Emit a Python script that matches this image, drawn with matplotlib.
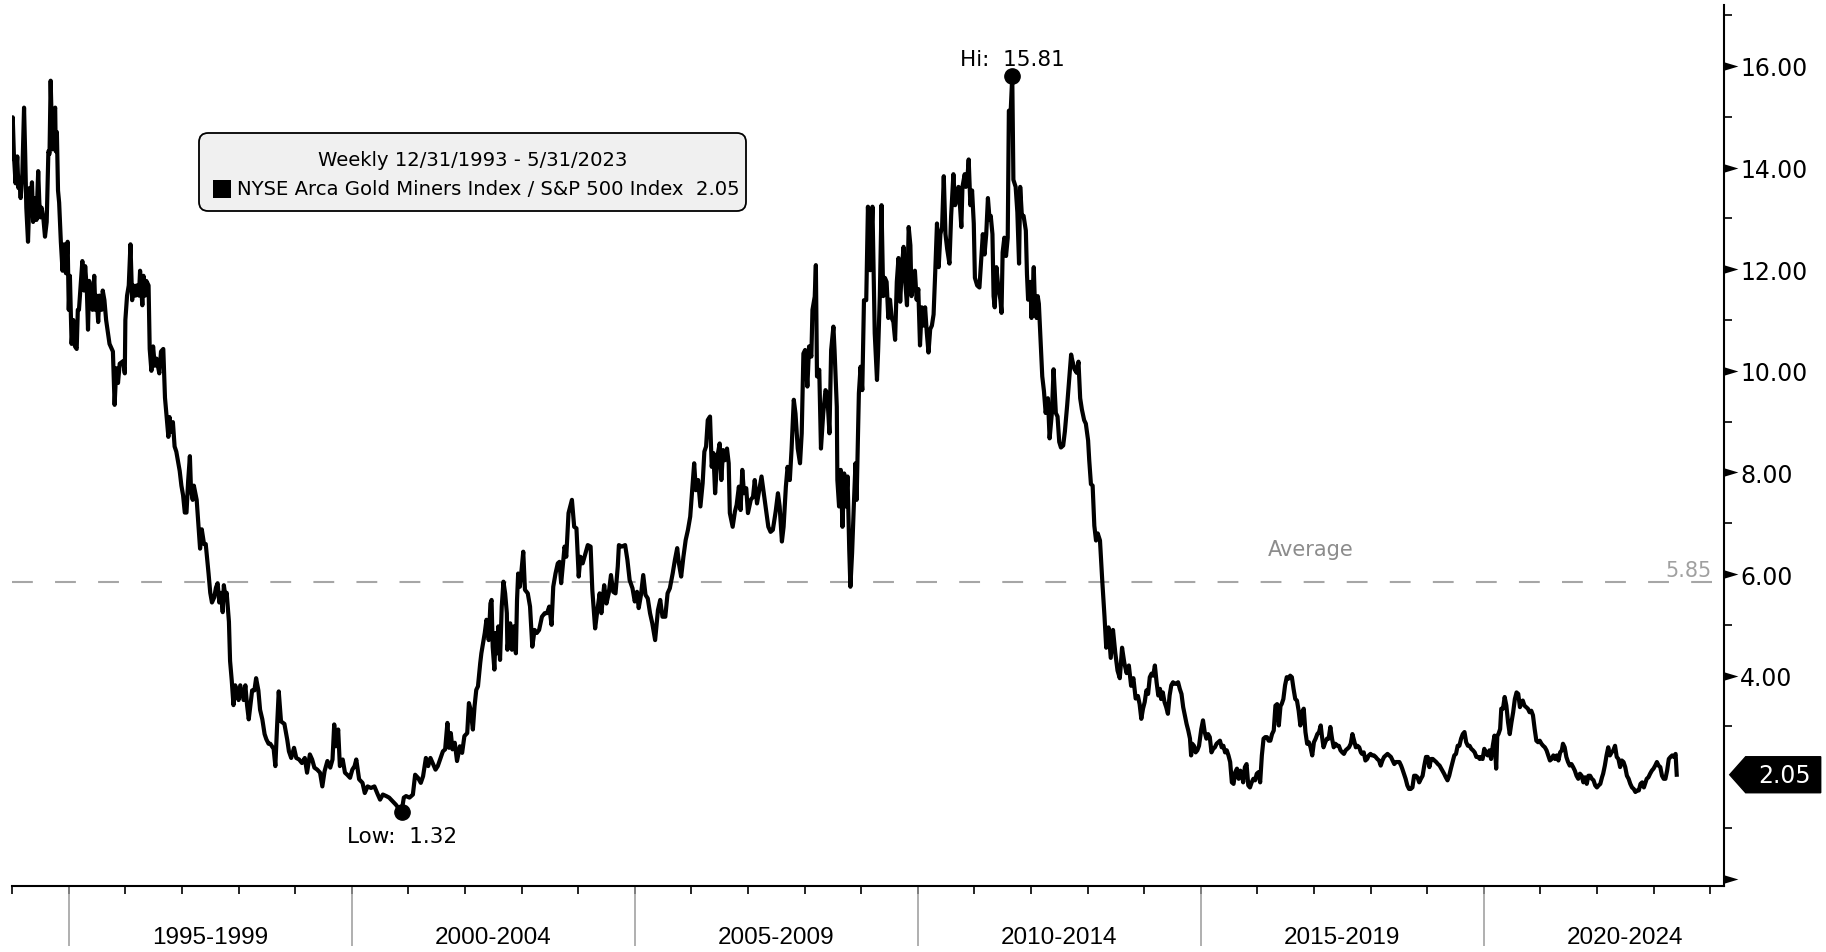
import numpy as np
import matplotlib
matplotlib.use("Agg")
import matplotlib.pyplot as plt
from matplotlib.path import Path
from matplotlib.patches import FancyBboxPatch, Rectangle, Polygon
import matplotlib.transforms as mtransforms

plt.rcParams['font.family'] = ['DejaVu Sans']
plt.rcParams['lines.scale_dashes'] = False

# weekly GDM / SPX ratio (decimal years)
yrs_94_98 = [1994.00, 1994.01, 1994.03, 1994.06, 1994.09, 1994.11, 1994.13, 1994.15, 1994.18, 1994.21,
             1994.23, 1994.25, 1994.28, 1994.31, 1994.33, 1994.35, 1994.37, 1994.40, 1994.43, 1994.46,
             1994.48, 1994.50, 1994.52, 1994.55, 1994.58, 1994.61, 1994.64, 1994.66, 1994.68, 1994.71,
             1994.73, 1994.76, 1994.77, 1994.79, 1994.81, 1994.83, 1994.86, 1994.89, 1994.92, 1994.95,
             1994.98, 1995.00, 1995.02, 1995.05, 1995.08, 1995.11, 1995.14, 1995.16, 1995.18, 1995.21,
             1995.24, 1995.27, 1995.29, 1995.32, 1995.34, 1995.36, 1995.39, 1995.42, 1995.45, 1995.47,
             1995.49, 1995.52, 1995.54, 1995.58, 1995.60, 1995.63, 1995.66, 1995.72, 1995.78, 1995.81,
             1995.84, 1995.87, 1995.90, 1995.96, 1995.99, 1996.00, 1996.03, 1996.06, 1996.09, 1996.12,
             1996.14, 1996.18, 1996.20, 1996.24, 1996.26, 1996.30, 1996.32, 1996.35, 1996.37, 1996.41,
             1996.43, 1996.46, 1996.49, 1996.52, 1996.55, 1996.60, 1996.63, 1996.67, 1996.70, 1996.73,
             1996.76, 1996.78, 1996.81, 1996.84, 1996.87, 1996.90, 1996.96, 1996.99, 1997.02, 1997.05,
             1997.08, 1997.11, 1997.14, 1997.16, 1997.19, 1997.21, 1997.26, 1997.29, 1997.32, 1997.35,
             1997.39, 1997.42, 1997.47, 1997.50, 1997.53, 1997.57, 1997.60, 1997.63, 1997.66, 1997.69,
             1997.72, 1997.74, 1997.77, 1997.79, 1997.83, 1997.85, 1997.88, 1997.91, 1997.94, 1997.97,
             1998.00, 1998.03, 1998.05, 1998.09, 1998.12, 1998.15, 1998.18, 1998.21, 1998.24, 1998.28,
             1998.31, 1998.35, 1998.38, 1998.42, 1998.46, 1998.49, 1998.53, 1998.56, 1998.62, 1998.65,
             1998.68]
val_94_98 = [14.17, 14.99, 14.27, 13.69, 14.22, 13.60, 13.69, 13.40, 13.89, 15.18,
             14.27, 13.21, 12.54, 13.60, 13.31, 13.71, 12.93, 13.40, 12.97, 13.93,
             13.31, 13.02, 13.21, 13.02, 12.64, 12.93, 14.32, 14.27, 15.71, 14.36,
             15.04, 15.18, 14.32, 14.70, 13.55, 13.31, 12.54, 11.97, 12.49, 11.92,
             12.54, 11.20, 11.87, 10.53, 11.00, 10.48, 10.43, 11.20, 11.20, 11.68,
             12.16, 11.58, 12.06, 11.58, 10.81, 11.77, 11.58, 11.20, 11.87, 11.20,
             11.48, 10.96, 11.48, 11.20, 11.58, 11.39, 11.00, 10.53, 10.38, 9.33,
             10.05, 9.76, 10.14, 10.19, 9.95, 11.00, 11.48, 11.68, 12.49, 11.39,
             11.68, 11.48, 11.68, 11.48, 11.97, 11.29, 11.87, 11.48, 11.77, 11.68,
             10.43, 10.00, 10.48, 10.10, 10.24, 9.95, 10.38, 10.43, 9.47, 9.09,
             8.70, 9.09, 8.80, 8.99, 8.51, 8.41, 8.03, 7.74, 7.55, 7.21,
             7.21, 7.84, 8.32, 7.65, 7.46, 7.74, 7.46, 6.98, 6.50, 6.88,
             6.59, 6.59, 6.01, 5.63, 5.44, 5.54, 5.73, 5.82, 5.44, 5.63,
             5.25, 5.78, 5.54, 5.63, 5.06, 4.29, 3.90, 3.42, 3.81, 3.71,
             3.52, 3.81, 3.71, 3.52, 3.81, 3.42, 3.14, 3.42, 3.71, 3.71,
             3.95, 3.71, 3.33, 3.14, 2.85, 2.75, 2.66, 2.66, 2.56, 2.22,
             2.99]

yrs_98_03 = [1998.71, 1998.75, 1998.81, 1998.86, 1998.89, 1998.93, 1998.98, 1999.02, 1999.07, 1999.12,
             1999.17, 1999.21, 1999.26, 1999.30, 1999.34, 1999.39, 1999.44, 1999.48, 1999.52, 1999.57,
             1999.62, 1999.66, 1999.69, 1999.72, 1999.76, 1999.79, 1999.84, 1999.88, 1999.92, 1999.97,
             2000.01, 2000.05, 2000.08, 2000.13, 2000.19, 2000.23, 2000.28, 2000.34, 2000.40, 2000.46,
             2000.50, 2000.55, 2000.61, 2000.66, 2000.72, 2000.78, 2000.84, 2000.88, 2000.92, 2000.96,
             2001.02, 2001.08, 2001.12, 2001.17, 2001.22, 2001.26, 2001.31, 2001.35, 2001.39, 2001.43,
             2001.48, 2001.52, 2001.57, 2001.61, 2001.65, 2001.69, 2001.72, 2001.75, 2001.78, 2001.82,
             2001.86, 2001.91, 2001.95, 2001.99, 2002.04, 2002.07, 2002.10, 2002.14, 2002.17, 2002.20,
             2002.23, 2002.27, 2002.29, 2002.32, 2002.35, 2002.38, 2002.40, 2002.42, 2002.45, 2002.47,
             2002.49, 2002.52, 2002.54, 2002.57, 2002.59, 2002.62, 2002.65, 2002.68, 2002.71, 2002.74,
             2002.75, 2002.80, 2002.83, 2002.86, 2002.90, 2002.92, 2002.94, 2002.97, 2003.00, 2003.03,
             2003.06, 2003.11, 2003.15, 2003.19, 2003.23, 2003.27, 2003.31, 2003.36, 2003.41, 2003.45,
             2003.49, 2003.53, 2003.56, 2003.60, 2003.64]
val_98_03 = [3.69, 3.10, 3.05, 2.74, 2.51, 2.38, 2.58, 2.38, 2.35, 2.28,
             2.38, 2.09, 2.45, 2.35, 2.19, 2.15, 2.09, 1.82, 2.12, 2.32,
             2.19, 2.35, 3.04, 2.61, 2.94, 2.22, 2.35, 2.09, 2.05, 1.99,
             2.15, 2.22, 2.35, 1.96, 1.89, 1.69, 1.82, 1.79, 1.82, 1.66,
             1.56, 1.66, 1.63, 1.60, 1.53, 1.46, 1.37, 1.32, 1.60, 1.63,
             1.60, 1.66, 2.05, 1.99, 1.89, 2.02, 2.38, 2.22, 2.38, 2.28,
             2.15, 2.22, 2.38, 2.51, 2.55, 3.07, 2.58, 2.87, 2.55, 2.68,
             2.32, 2.61, 2.48, 2.81, 2.87, 3.46, 3.33, 2.94, 3.40, 3.72,
             3.79, 4.25, 4.44, 4.64, 4.84, 5.10, 4.97, 4.70, 5.42, 5.49,
             4.57, 4.12, 4.84, 4.44, 4.97, 4.31, 5.36, 5.85, 5.62, 5.23,
             4.51, 5.03, 4.51, 4.97, 4.44, 5.49, 6.01, 5.75, 6.08, 6.44,
             5.69, 5.62, 5.36, 4.57, 4.90, 4.84, 4.90, 5.16, 5.23, 5.23,
             5.36, 5.00, 5.75, 6.01, 6.21]

yrs_03_09 = [2003.67, 2003.70, 2003.76, 2003.79, 2003.83, 2003.89, 2003.93, 2003.97, 2004.01, 2004.04,
             2004.08, 2004.13, 2004.17, 2004.22, 2004.25, 2004.30, 2004.34, 2004.38, 2004.41, 2004.46,
             2004.50, 2004.54, 2004.58, 2004.62, 2004.66, 2004.70, 2004.72, 2004.77, 2004.83, 2004.87,
             2004.91, 2004.96, 2005.00, 2005.04, 2005.07, 2005.11, 2005.15, 2005.19, 2005.23, 2005.27,
             2005.31, 2005.36, 2005.41, 2005.45, 2005.49, 2005.54, 2005.58, 2005.62, 2005.67, 2005.71,
             2005.75, 2005.78, 2005.82, 2005.86, 2005.90, 2005.94, 2005.98, 2006.01, 2006.05, 2006.08,
             2006.12, 2006.16, 2006.20, 2006.23, 2006.26, 2006.29, 2006.33, 2006.36, 2006.39, 2006.42,
             2006.46, 2006.50, 2006.53, 2006.56, 2006.59, 2006.63, 2006.66, 2006.68, 2006.73, 2006.77,
             2006.80, 2006.84, 2006.87, 2006.90, 2006.93, 2006.97, 2007.00, 2007.05, 2007.09, 2007.12,
             2007.16, 2007.19, 2007.24, 2007.28, 2007.31, 2007.36, 2007.40, 2007.44, 2007.49, 2007.53,
             2007.56, 2007.60, 2007.63, 2007.67, 2007.70, 2007.74, 2007.77, 2007.81, 2007.84, 2007.88,
             2007.92, 2007.95, 2007.98, 2008.01, 2008.05, 2008.08, 2008.12, 2008.14, 2008.18, 2008.20,
             2008.22, 2008.26, 2008.29, 2008.33, 2008.37, 2008.40, 2008.44, 2008.47, 2008.51, 2008.53,
             2008.57, 2008.58, 2008.61, 2008.64, 2008.67, 2008.70, 2008.73, 2008.76, 2008.79, 2008.81,
             2008.84, 2008.87, 2008.90, 2008.92, 2008.96, 2008.99, 2009.02, 2009.05, 2009.09, 2009.12,
             2009.16, 2009.20, 2009.24, 2009.28]
val_03_09 = [6.24, 5.82, 6.54, 6.34, 7.20, 7.46, 6.93, 6.90, 5.95, 6.34,
             6.21, 6.41, 6.57, 6.54, 5.69, 4.93, 5.29, 5.62, 5.23, 5.78,
             5.42, 5.62, 5.98, 5.65, 5.62, 6.15, 6.57, 6.54, 6.57, 6.28,
             5.88, 5.72, 5.46, 5.65, 5.33, 5.59, 5.98, 5.59, 5.52, 5.23,
             5.03, 4.70, 5.29, 5.49, 5.16, 5.16, 5.62, 5.72, 6.01, 6.28,
             6.51, 6.21, 5.95, 6.34, 6.67, 6.87, 7.13, 7.59, 8.18, 7.65,
             7.85, 7.33, 7.79, 8.41, 8.51, 9.03, 9.10, 8.11, 8.38, 7.59,
             8.31, 8.57, 7.85, 8.44, 8.24, 8.47, 8.18, 7.20, 6.93, 7.23,
             7.36, 7.72, 7.26, 8.05, 7.59, 7.69, 7.20, 7.46, 7.52, 7.85,
             7.39, 7.59, 7.92, 7.59, 7.33, 6.93, 6.83, 6.87, 7.23, 7.59,
             7.33, 6.64, 6.93, 7.72, 8.11, 7.85, 8.44, 9.43, 9.16, 8.47,
             8.18, 8.77, 10.34, 10.41, 9.69, 10.48, 10.28, 11.20, 11.46, 12.08,
             9.89, 10.02, 8.47, 9.16, 9.62, 9.56, 8.77, 10.41, 10.87, 10.41,
             9.29, 7.85, 7.33, 8.05, 6.93, 7.98, 7.33, 7.92, 6.47, 5.75,
             6.41, 7.33, 8.18, 7.46, 9.56, 10.08, 9.62, 11.39, 11.39, 13.23,
             11.98, 13.23, 10.74, 9.82]

yrs_09_13 = [2009.30, 2009.33, 2009.36, 2009.39, 2009.42, 2009.45, 2009.48, 2009.51, 2009.54, 2009.57,
             2009.60, 2009.63, 2009.66, 2009.69, 2009.72, 2009.75, 2009.78, 2009.81, 2009.84, 2009.87,
             2009.89, 2009.92, 2009.95, 2009.98, 2010.01, 2010.04, 2010.07, 2010.10, 2010.13, 2010.16,
             2010.19, 2010.22, 2010.25, 2010.28, 2010.31, 2010.34, 2010.37, 2010.40, 2010.43, 2010.46,
             2010.49, 2010.52, 2010.56, 2010.59, 2010.63, 2010.66, 2010.70, 2010.72, 2010.75, 2010.77,
             2010.79, 2010.83, 2010.85, 2010.88, 2010.90, 2010.93, 2010.96, 2010.99, 2011.01, 2011.05,
             2011.09, 2011.13, 2011.15, 2011.18, 2011.21, 2011.24, 2011.27, 2011.29, 2011.32, 2011.34,
             2011.36, 2011.39, 2011.42, 2011.46, 2011.48, 2011.50, 2011.53, 2011.56, 2011.59, 2011.61,
             2011.64, 2011.67, 2011.69, 2011.73, 2011.76, 2011.79, 2011.81, 2011.84, 2011.87, 2011.91,
             2011.93, 2011.95, 2011.99, 2012.01, 2012.05, 2012.07, 2012.10, 2012.12, 2012.14, 2012.17,
             2012.20, 2012.23, 2012.26, 2012.30, 2012.33, 2012.37, 2012.40, 2012.44, 2012.47, 2012.50,
             2012.53, 2012.57, 2012.60, 2012.64, 2012.68, 2012.71, 2012.73, 2012.77, 2012.81, 2012.84,
             2012.87, 2012.90, 2012.94, 2012.97, 2013.01, 2013.03, 2013.06, 2013.09, 2013.12, 2013.15,
             2013.18, 2013.22, 2013.26, 2013.30, 2013.33, 2013.37, 2013.41, 2013.45, 2013.49, 2013.53,
             2013.57, 2013.61, 2013.65, 2013.69, 2013.73, 2013.77, 2013.81, 2013.85, 2013.89]
val_09_13 = [10.39, 11.47, 13.26, 11.47, 11.83, 11.75, 11.04, 11.40, 11.04, 10.96,
             10.61, 11.75, 12.22, 11.36, 12.04, 12.44, 11.75, 11.29, 12.83, 12.47,
             11.47, 11.75, 11.97, 11.40, 11.61, 10.50, 11.25, 10.89, 11.25, 10.75,
             10.36, 10.82, 10.89, 11.11, 11.97, 12.90, 12.04, 12.69, 12.83, 13.83,
             12.69, 12.40, 12.11, 13.05, 13.87, 13.26, 13.48, 13.62, 13.19, 12.83,
             13.62, 13.87, 13.62, 13.83, 14.16, 13.26, 13.55, 12.90, 11.83, 11.68,
             11.64, 12.33, 12.69, 12.29, 12.69, 13.40, 12.97, 13.05, 12.69, 11.47,
             11.25, 12.04, 11.68, 11.40, 11.14, 12.33, 12.62, 12.26, 12.62, 15.12,
             15.05, 15.81, 13.76, 13.62, 13.12, 12.11, 13.62, 13.05, 13.05, 12.76,
             11.90, 11.40, 11.75, 11.04, 12.04, 11.32, 11.04, 11.47, 11.32, 10.61,
             9.89, 9.60, 9.17, 9.46, 8.67, 9.17, 10.03, 9.17, 9.10, 8.60,
             8.49, 8.53, 8.81, 9.32, 9.89, 10.32, 10.21, 10.03, 9.96, 10.18,
             9.46, 9.24, 9.03, 8.96, 8.63, 8.24, 7.77, 7.74, 6.95, 6.66,
             6.80, 6.66, 5.87, 5.16, 4.55, 4.95, 4.35, 4.90, 4.45, 4.10,
             3.95, 4.55, 4.25, 4.05, 4.20, 3.80, 3.95, 3.55, 3.60]

yrs_13_19 = [2013.92, 2013.95, 2013.98, 2014.01, 2014.04, 2014.07, 2014.10, 2014.13, 2014.16, 2014.19,
             2014.22, 2014.25, 2014.28, 2014.30, 2014.33, 2014.36, 2014.39, 2014.42, 2014.45, 2014.48,
             2014.51, 2014.54, 2014.57, 2014.60, 2014.63, 2014.66, 2014.69, 2014.72, 2014.75, 2014.78,
             2014.81, 2014.83, 2014.85, 2014.88, 2014.91, 2014.94, 2014.97, 2015.01, 2015.04, 2015.07,
             2015.10, 2015.13, 2015.16, 2015.19, 2015.22, 2015.25, 2015.28, 2015.31, 2015.34, 2015.37,
             2015.40, 2015.43, 2015.46, 2015.49, 2015.52, 2015.55, 2015.58, 2015.61, 2015.64, 2015.67,
             2015.70, 2015.72, 2015.75, 2015.78, 2015.81, 2015.84, 2015.87, 2015.90, 2015.93, 2015.96,
             2015.99, 2016.02, 2016.05, 2016.08, 2016.11, 2016.14, 2016.17, 2016.20, 2016.23, 2016.26,
             2016.29, 2016.32, 2016.35, 2016.38, 2016.41, 2016.43, 2016.46, 2016.49, 2016.52, 2016.55,
             2016.58, 2016.61, 2016.64, 2016.67, 2016.70, 2016.73, 2016.76, 2016.79, 2016.82, 2016.85,
             2016.88, 2016.91, 2016.94, 2016.97, 2017.00, 2017.03, 2017.06, 2017.09, 2017.12, 2017.14,
             2017.17, 2017.20, 2017.23, 2017.26, 2017.29, 2017.32, 2017.35, 2017.38, 2017.41, 2017.44,
             2017.47, 2017.50, 2017.53, 2017.56, 2017.59, 2017.62, 2017.65, 2017.68, 2017.71, 2017.74,
             2017.77, 2017.80, 2017.83, 2017.85, 2017.88, 2017.91, 2017.94, 2017.97, 2018.00, 2018.03,
             2018.06, 2018.09, 2018.12, 2018.15, 2018.18, 2018.21, 2018.24, 2018.27, 2018.30, 2018.33,
             2018.36, 2018.39, 2018.42, 2018.45, 2018.48, 2018.51, 2018.54, 2018.56, 2018.59, 2018.62,
             2018.65, 2018.68, 2018.71, 2018.74, 2018.77, 2018.80, 2018.83, 2018.86, 2018.89, 2018.92,
             2018.95, 2018.98, 2019.01, 2019.04, 2019.07, 2019.10, 2019.13, 2019.16, 2019.19, 2019.22]
val_13_19 = [3.44, 3.15, 3.35, 3.48, 3.71, 3.64, 3.97, 4.04, 4.00, 4.20,
             3.87, 3.61, 3.74, 3.54, 3.67, 3.48, 3.38, 3.25, 3.61, 3.81,
             3.87, 3.84, 3.84, 3.87, 3.74, 3.64, 3.38, 3.22, 3.05, 2.92,
             2.76, 2.43, 2.66, 2.62, 2.49, 2.53, 2.62, 2.95, 3.12, 2.89,
             2.76, 2.85, 2.79, 2.49, 2.56, 2.59, 2.66, 2.69, 2.72, 2.59,
             2.62, 2.49, 2.53, 2.43, 2.30, 1.90, 1.87, 2.10, 2.17, 1.97,
             2.13, 2.10, 1.90, 2.20, 2.26, 1.84, 1.80, 1.90, 1.97, 1.94,
             2.07, 2.10, 1.90, 2.43, 2.76, 2.79, 2.79, 2.72, 2.72, 2.85,
             2.92, 3.41, 3.44, 3.02, 3.41, 3.44, 3.54, 3.81, 3.97, 3.94,
             4.00, 3.97, 3.74, 3.54, 3.51, 3.31, 3.02, 3.28, 3.35, 2.89,
             2.66, 2.69, 2.59, 2.43, 2.69, 2.76, 2.85, 2.89, 3.02, 2.82,
             2.59, 2.69, 2.76, 2.76, 2.99, 2.76, 2.59, 2.66, 2.62, 2.62,
             2.53, 2.49, 2.46, 2.53, 2.56, 2.59, 2.66, 2.85, 2.72, 2.59,
             2.62, 2.59, 2.49, 2.46, 2.49, 2.33, 2.36, 2.43, 2.46, 2.43,
             2.43, 2.40, 2.36, 2.33, 2.23, 2.33, 2.40, 2.43, 2.46, 2.43,
             2.40, 2.33, 2.26, 2.30, 2.30, 2.30, 2.23, 2.17, 2.07, 1.97,
             1.84, 1.77, 1.77, 1.80, 2.03, 2.03, 2.00, 1.90, 1.97, 2.03,
             2.23, 2.40, 2.40, 2.20, 2.36, 2.36, 2.33, 2.30, 2.26, 2.23]

yrs_19_23 = [2019.25, 2019.27, 2019.30, 2019.33, 2019.36, 2019.39, 2019.42, 2019.45, 2019.48, 2019.51,
             2019.54, 2019.57, 2019.60, 2019.63, 2019.66, 2019.69, 2019.72, 2019.75, 2019.78, 2019.81,
             2019.84, 2019.87, 2019.90, 2019.93, 2019.95, 2019.98, 2020.01, 2020.04, 2020.07, 2020.10,
             2020.13, 2020.16, 2020.19, 2020.22, 2020.24, 2020.26, 2020.29, 2020.31, 2020.34, 2020.37,
             2020.40, 2020.43, 2020.46, 2020.49, 2020.52, 2020.55, 2020.58, 2020.61, 2020.64, 2020.67,
             2020.69, 2020.72, 2020.75, 2020.78, 2020.81, 2020.84, 2020.87, 2020.90, 2020.93, 2020.96,
             2020.99, 2021.02, 2021.05, 2021.08, 2021.11, 2021.14, 2021.17, 2021.20, 2021.23, 2021.26,
             2021.29, 2021.32, 2021.35, 2021.38, 2021.40, 2021.43, 2021.46, 2021.49, 2021.52, 2021.55,
             2021.58, 2021.61, 2021.64, 2021.67, 2021.70, 2021.73, 2021.76, 2021.79, 2021.82, 2021.85,
             2021.88, 2021.91, 2021.94, 2021.97, 2022.00, 2022.03, 2022.06, 2022.09, 2022.11, 2022.14,
             2022.17, 2022.20, 2022.23, 2022.26, 2022.29, 2022.32, 2022.35, 2022.38, 2022.41, 2022.44,
             2022.47, 2022.50, 2022.53, 2022.56, 2022.59, 2022.62, 2022.65, 2022.68, 2022.71, 2022.74,
             2022.77, 2022.80, 2022.83, 2022.85, 2022.88, 2022.91, 2022.94, 2022.97, 2023.00, 2023.03,
             2023.06, 2023.09, 2023.12, 2023.15, 2023.18, 2023.21, 2023.24, 2023.27, 2023.30, 2023.33,
             2023.36, 2023.39, 2023.41]
val_19_23 = [2.17, 2.13, 2.07, 2.00, 1.94, 2.03, 2.17, 2.30, 2.43, 2.46,
             2.62, 2.62, 2.76, 2.85, 2.89, 2.69, 2.62, 2.62, 2.56, 2.53,
             2.49, 2.40, 2.40, 2.36, 2.40, 2.36, 2.56, 2.46, 2.43, 2.53,
             2.36, 2.62, 2.82, 2.17, 2.82, 2.85, 2.95, 3.35, 3.35, 3.58,
             3.41, 3.08, 2.85, 3.08, 3.28, 3.54, 3.67, 3.64, 3.38, 3.48,
             3.51, 3.41, 3.38, 3.35, 3.28, 3.31, 3.22, 2.95, 2.72, 2.69,
             2.72, 2.66, 2.62, 2.59, 2.53, 2.43, 2.33, 2.36, 2.43, 2.36,
             2.43, 2.33, 2.49, 2.53, 2.66, 2.59, 2.40, 2.30, 2.23, 2.26,
             2.20, 2.13, 2.03, 1.97, 2.07, 2.03, 1.90, 2.00, 1.87, 2.03,
             2.03, 1.97, 1.94, 1.84, 1.80, 1.84, 1.87, 2.00, 2.07, 2.23,
             2.43, 2.59, 2.43, 2.49, 2.53, 2.62, 2.40, 2.36, 2.20, 2.33,
             2.30, 2.20, 2.03, 1.97, 1.87, 1.80, 1.77, 1.71, 1.74, 1.74,
             1.87, 1.90, 1.80, 1.87, 1.97, 2.00, 2.07, 2.13, 2.17, 2.23,
             2.30, 2.23, 2.20, 2.03, 1.97, 1.97, 2.13, 2.36, 2.40, 2.43,
             2.40, 2.46, 2.05]

years = np.array(yrs_94_98 + yrs_98_03 + yrs_03_09 + yrs_09_13 + yrs_13_19 + yrs_19_23)
ratio = np.array(val_94_98 + val_98_03 + val_03_09 + val_09_13 + val_13_19 + val_19_23)

avg_val = 5.85
last_val = 2.05
period_labels = ['1995-1999', '2000-2004', '2005-2009', '2010-2014', '2015-2019', '2020-2024']
period_starts = [1995, 2000, 2005, 2010, 2015, 2020]
legend_title = 'Weekly 12/31/1993 - 5/31/2023'
series_name = 'NYSE Arca Gold Miners Index / S&P 500 Index'

W, H = 1826, 953
fig = plt.figure(figsize=(W / 100, H / 100), dpi=100)
ax_l, ax_r, ax_b, ax_t = 11.6 / W, 1723.7 / W, 1 - 887 / H, 1 - 6 / H
ax = fig.add_axes([ax_l, ax_b, ax_r - ax_l, ax_t - ax_b])
ax_wpx = (ax_r - ax_l) * W

ax.set_xlim(1993.99, 2024.24)
ax.set_ylim(-0.14, 17.2)

ax.plot(years, ratio, color='black', lw=3.0, solid_joinstyle='round', zorder=3)
ax.plot([1993.99, 2024.15], [avg_val, avg_val], color='#a6a6a6', lw=1.5,
        dashes=(15, 16), zorder=2)

# hi / low markers
i_hi = int(np.argmax(ratio))
i_lo = int(np.argmin(ratio))
ax.plot(years[i_hi], ratio[i_hi], 'o', color='black', ms=11, zorder=4)
ax.plot(years[i_lo], ratio[i_lo], 'o', color='black', ms=11, zorder=4)
ax.annotate(f'Hi:  {ratio[i_hi]:.2f}', (years[i_hi], ratio[i_hi]), xytext=(0, 17),
            textcoords='offset pixels', ha='center', va='center', fontsize=15.5)
ax.annotate(f'Low:  {ratio[i_lo]:.2f}', (years[i_lo], ratio[i_lo]), xytext=(0, -24),
            textcoords='offset pixels', ha='center', va='center', fontsize=15.5)

ax.text(2016.95, 6.50, 'Average', color='#8c8c8c', fontsize=15, ha='center', va='center')
ax.text(2024.02, 6.08, f'{avg_val:.2f}', color='#a0a0a0', fontsize=15, ha='right', va='center')

# spines
for s in ['top', 'left']:
    ax.spines[s].set_visible(False)
ax.spines['right'].set_linewidth(1.5)
ax.spines['bottom'].set_linewidth(1.5)

# y axis on the right, arrow ticks
ax.yaxis.tick_right()
ax.set_yticks(np.arange(0, 17, 2))
ax.set_yticklabels(['', ''] + [f'{v:.2f}' for v in np.arange(4, 17, 2)])
ax.set_yticks(np.arange(1, 18, 2), minor=True)
ax.tick_params(axis='y', which='major', length=0, pad=12, labelsize=17)
ax.tick_params(axis='y', which='minor', direction='out', length=6, width=1.2,
               right=True, left=False)
tri = Path([(0, -0.3), (1, 0), (0, 0.3), (0, -0.3)])
ytrans = mtransforms.blended_transform_factory(ax.transAxes, ax.transData)
arrow_ticks = [0, 4, 6, 8, 10, 12, 14, 16]
ax.plot([1.0] * len(arrow_ticks), arrow_ticks, ls='none', marker=tri, ms=20,
        mfc='black', mec='black', mew=0, transform=ytrans, clip_on=False)

# last value tag
px = 1.0 / ax_wpx
hh = 18 / 50.8
tag = Polygon([(1 + 6 * px, last_val), (1 + 22 * px, last_val + hh), (1 + 97 * px, last_val + hh),
               (1 + 97 * px, last_val - hh), (1 + 22 * px, last_val - hh)],
              closed=True, facecolor='black', edgecolor='black', transform=ytrans, clip_on=False)
ax.add_patch(tag)
ax.text(1 + 61 * px, last_val, f'{last_val:.2f}', color='white', fontsize=17,
        ha='center', va='center', transform=ytrans)

# x axis: yearly ticks, 5-year separators and labels
ax.set_xticks(np.arange(1994, 2025))
ax.set_xticklabels([])
ax.tick_params(axis='x', which='major', direction='out', length=6, width=1.2)
xtrans = mtransforms.blended_transform_factory(ax.transData, ax.transAxes)
ax.vlines(period_starts, -0.068, 0, colors='#9a9a9a', lw=1.1, transform=xtrans, clip_on=False)
for start, lab in zip(period_starts, period_labels):
    ax.text(start + 2.5, -0.058, lab, transform=xtrans, ha='center', va='center',
            fontsize=17.5, family=['Liberation Sans', 'DejaVu Sans'])

# legend box
bx0, bx1, by0, by1 = 199, 746, 134, 212
box = FancyBboxPatch((bx0 / W, 1 - by1 / H), (bx1 - bx0) / W, (by1 - by0) / H,
                     boxstyle='round,pad=0,rounding_size=0.005', mutation_aspect=W / H,
                     transform=fig.transFigure, facecolor='#f0f0f0', edgecolor='black',
                     lw=1.3)
fig.patches.append(box)
fig.text((bx0 + bx1) / 2 / W, 1 - 160 / H, legend_title, ha='center', va='center', fontsize=14.1)
fig.patches.append(Rectangle((213 / W, 1 - 199 / H), 18 / W, 18 / H, transform=fig.transFigure,
                             facecolor='black', edgecolor='none'))
fig.text(237 / W, 1 - 190 / H, f'{series_name}  {last_val:.2f}', ha='left', va='center',
         fontsize=14.1)

fig.savefig('out.png', dpi=100)
